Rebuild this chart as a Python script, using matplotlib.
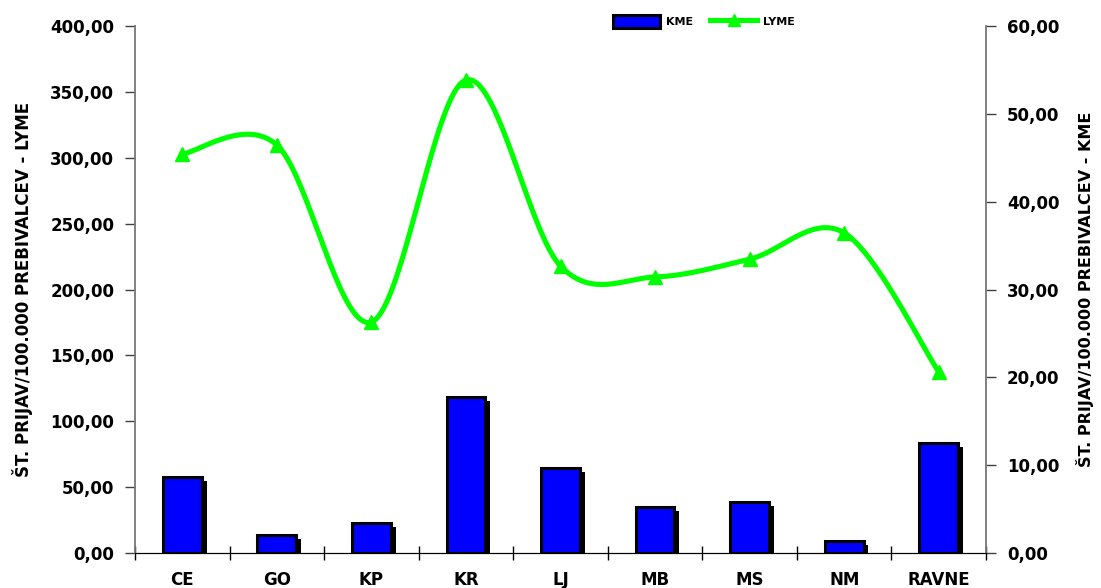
import numpy as np
import matplotlib
matplotlib.use("Agg")
import matplotlib.pyplot as plt
import matplotlib.patheffects as pe
from matplotlib.lines import Line2D
from matplotlib.patches import Patch
from matplotlib.ticker import FuncFormatter, MultipleLocator

regions = ["CE", "GO", "KP", "KR", "LJ", "MB", "MS", "NM", "RAVNE"]
kme = [8.65, 2.05, 3.45, 17.75, 9.65, 5.25, 5.85, 1.40, 12.55]
lyme = [302.8, 309.7, 175.3, 359.0, 217.8, 209.5, 223.0, 243.0, 137.4]

GREEN = "#00ff00"
BLUE = "#0000ff"


def comma_fmt(v, pos):
    return f"{v:.2f}".replace(".", ",")


def smooth_curve(y, steps=40):
    # cubic bezier through every point, catmull-rom style tangents
    y = np.asarray(y, dtype=float)
    x = np.arange(len(y), dtype=float)
    pts = np.column_stack([x, y])
    padded = np.vstack([pts[0], pts, pts[-1]])
    out = []
    t = np.linspace(0, 1, steps)[:, None]
    for i in range(len(pts) - 1):
        p0, p3 = padded[i + 1], padded[i + 2]
        c1 = p0 + (padded[i + 2] - padded[i]) / 6
        c2 = p3 - (padded[i + 3] - padded[i + 1]) / 6
        seg = ((1 - t) ** 3) * p0 + 3 * ((1 - t) ** 2) * t * c1 \
            + 3 * (1 - t) * t ** 2 * c2 + t ** 3 * p3
        out.append(seg if i == 0 else seg[1:])
    seg = np.vstack(out)
    return seg[:, 0], seg[:, 1]


plt.rcParams["font.family"] = ["DejaVu Sans"]
plt.rcParams["font.weight"] = "bold"

fig = plt.figure(figsize=(11.01, 5.88), dpi=100)
ax = fig.add_axes([0.1226, 0.0595, 0.773, 0.8963])
ax2 = ax.twinx()

x = np.arange(len(regions))

# KME bars on the right-hand scale, with a solid drop shadow
ax2.bar(x, kme, width=0.41, color=BLUE, edgecolor="black", linewidth=2.2,
        path_effects=[pe.SimplePatchShadow(offset=(3.5, -3), shadow_rgbFace="black", alpha=1.0),
                      pe.Normal()])
ax2.set_ylim(0, 60)
ax2.yaxis.set_major_locator(MultipleLocator(10))

# LYME smoothed line on the left-hand scale, kept above the bars
ax.set_zorder(ax2.get_zorder() + 1)
ax.patch.set_visible(False)
sx, sy = smooth_curve(lyme)
ax.plot(sx, sy, color=GREEN, lw=3.7, solid_capstyle="round", zorder=3)
ax.plot(x, lyme, ls="none", marker="^", ms=10, color=GREEN, zorder=4)
ax.set_ylim(0, 400)
ax.yaxis.set_major_locator(MultipleLocator(50))

ax.set_xlim(-0.5, len(regions) - 0.5)
ax.set_xticks(np.arange(-0.5, len(regions), 1.0))
ax.set_xticklabels([])
ax.set_xticks(x, minor=True)
ax.set_xticklabels(regions, minor=True)
ax.tick_params(axis="x", which="major", direction="inout", length=10, width=1, color="black")
ax.tick_params(axis="x", which="minor", length=0, pad=13, labelsize=12)

for a in (ax, ax2):
    a.yaxis.set_major_formatter(FuncFormatter(comma_fmt))
    a.spines["top"].set_visible(False)
    a.spines["left"].set_color("#808080")
    a.spines["right"].set_color("#808080")
    a.spines["bottom"].set_color("black")
    a.spines["left"].set_linewidth(1.2)
    a.spines["right"].set_linewidth(1.2)
ax.tick_params(axis="y", direction="out", length=7, width=1, color="#404040", labelsize=12, pad=8)
ax2.tick_params(axis="y", direction="out", length=7, width=1, color="#404040", labelsize=12, pad=8)

ax.set_ylabel("ŠT. PRIJAV/100.000 PREBIVALCEV - LYME", fontsize=12, fontweight="bold", labelpad=12)
ax2.set_ylabel("ŠT. PRIJAV/100.000 PREBIVALCEV - KME", fontsize=11.5, fontweight="bold", labelpad=12)

handles = [
    Patch(facecolor=BLUE, edgecolor="black", linewidth=2.2, label="KME"),
    Line2D([0], [0], color=GREEN, lw=3.7, marker="^", ms=8, label="LYME"),
]
fig.legend(handles=handles, loc="upper left", bbox_to_anchor=(0.548, 0.992), ncol=2,
           frameon=False, handlelength=4.2, handleheight=1.4,
           columnspacing=1.6, handletextpad=0.5, prop={"weight": "bold", "size": 8})

fig.savefig("out.png", dpi=100)
